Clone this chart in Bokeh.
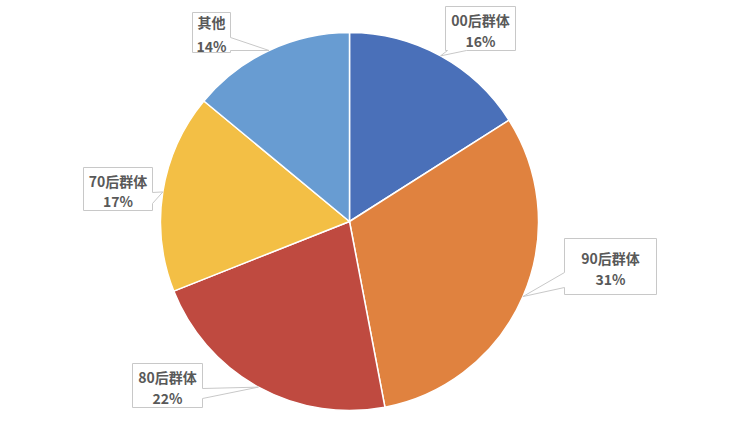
import math
from bokeh.plotting import figure
from bokeh.models import Range1d
from bokeh.core.properties import value
from bokeh.embed import file_html
from bokeh.resources import INLINE

# ---- data ----
categories = ["00后群体", "90后群体", "80后群体", "70后群体", "其他"]
shares = [16, 31, 22, 17, 14]
colors = ["#4A70B9", "#E0823F", "#BF4A40", "#F3BF45", "#689CD2"]

# ---- layout (image pixel coords of callout boxes) ----
# (left, right, top, bottom)
boxes = [
    (445, 515, 6, 50),
    (564, 656, 238, 294),
    (132, 202, 363, 407),
    (83, 152, 167, 210),
    (192, 230, 12, 52),
]
# pointer base: side and two positions along that side
pointer_side = ["bottom", "left", "right", "right", "right"]
pointer_base = [(447, 466), (272, 287), (388, 398), (192, 203), (37, 50)]
line1_y = [19, 257.5, 376, 180.5, 21]
line2_y = [40, 278, 397, 200, 45]

CX, CY, R = 349, 221, 189  # image coords of pie centre, radius (px)
W, H = 719, 414


def dx(x):
    return x - CX


def dy(y):
    return CY - y


p = figure(width=W, height=H, min_border=0,
           x_range=Range1d(-CX, W - CX),
           y_range=Range1d(CY - H, CY),
           toolbar_location=None, output_backend="svg")
p.axis.visible = False
p.grid.visible = False
p.outline_line_color = None
p.background_fill_color = "white"
p.border_fill_color = "white"

total = float(sum(shares))
starts, ends, mids = [], [], []
cum = 0.0
for s in shares:
    a0 = math.pi / 2 - 2 * math.pi * cum / total
    cum += s
    a1 = math.pi / 2 - 2 * math.pi * cum / total
    starts.append(a0)
    ends.append(a1)
    mids.append((a0 + a1) / 2)

p.wedge(x=0, y=0, radius=R, start_angle=starts, end_angle=ends,
        direction="clock", fill_color=colors, line_color="white", line_width=1.5)

font = value("Noto Sans CJK SC")
for i, cat in enumerate(categories):
    l, r, t, b = boxes[i]
    tipx = R * math.cos(mids[i])
    tipy = R * math.sin(mids[i])
    side = pointer_side[i]
    u0, u1 = pointer_base[i]
    if side == "bottom":
        pts = [(l, t), (r, t), (r, b), (u1, b), None, (u0, b), (l, b)]
    elif side == "left":
        pts = [(l, t), (r, t), (r, b), (l, b), (l, u1), None, (l, u0)]
    else:  # right
        pts = [(l, t), (r, t), (r, u0), None, (r, u1), (r, b), (l, b)]
    xs, ys = [], []
    for pt in pts:
        if pt is None:
            xs.append(tipx)
            ys.append(tipy)
        else:
            xs.append(dx(pt[0]))
            ys.append(dy(pt[1]))
    p.patch(xs, ys, fill_color="white", line_color="#C8C8C8", line_width=1)
    cxm = dx((l + r) / 2)
    p.text(x=[cxm], y=[dy(line1_y[i])], text=[cat], text_font=font,
           text_font_style="bold", text_font_size="14px", text_color="#595959",
           text_align="center", text_baseline="middle")
    p.text(x=[cxm], y=[dy(line2_y[i])], text=[f"{shares[i]}%"], text_font=font,
           text_font_style="bold", text_font_size="14px", text_color="#595959",
           text_align="center", text_baseline="middle")

open("out.html", "w").write(file_html(p, INLINE))
